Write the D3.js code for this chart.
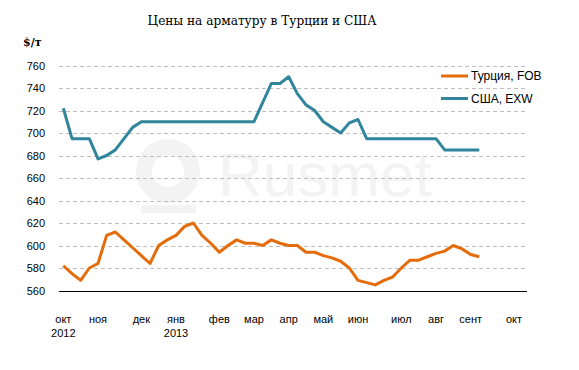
<!DOCTYPE html>
<html>
<head>
<meta charset="utf-8">
<script src="https://cdn.jsdelivr.net/npm/d3@7"></script>
<style>
  body { margin: 0; background: #fff; }
  svg { display: block; }
</style>
</head>
<body>
<div class="chart"></div>
<script>
(function() {
	var width = 579,
		height = 370;

	// weekly categories, month label on the first week shown for the month
	var weekCount = 54;
	var monthLabels = ["окт", "ноя", "дек", "янв", "фев", "мар", "апр", "май", "июн", "июл", "авг", "сент", "окт"];
	var monthWeeks = [0, 4, 9, 13, 18, 22, 26, 30, 34, 39, 43, 47, 52];
	var yearLabels = {0: "2012", 13: "2013"};

	var seriesNames = ["Турция, FOB", "США, EXW"];

	var turkey = [582, 575, 569, 580, 584, 609, 612, 605, 598, 591,
		584, 600, 605, 609, 617, 620, 609, 602, 594, 600,
		605, 602, 602, 600, 605, 602, 600, 600, 594, 594,
		591, 589, 586, 580, 569, 567, 565, 569, 572, 580,
		587, 587, 590, 593, 595, 600, 597, 592, 590];

	var usa = [722, 695, 695, 695, 677, 680, 685, 695, 705, 710,
		710, 710, 710, 710, 710, 710, 710, 710, 710, 710,
		710, 710, 710, 727, 744, 744, 750, 735, 725, 720,
		710, 705, 700, 709, 712, 695, 695, 695, 695, 695,
		695, 695, 695, 695, 685, 685, 685, 685, 685];

	var yTicks = [560, 580, 600, 620, 640, 660, 680, 700, 720, 740, 760];

	var colors = ["#E46C0A", "#31859C"];

	var left = 59, right = 527, top = 65.5, bottom = 290.5;

	var svg = d3.select(".chart").append("svg")
		.attr("width", width)
		.attr("height", height);

	var x = d3.scaleBand()
		.domain(d3.range(weekCount))
		.range([left, right])
		.paddingInner(0)
		.paddingOuter(0);

	var y = d3.scaleLinear()
		.domain([560, 760])
		.range([bottom, top]);

	// watermark
	var wm = svg.append("g").attr("fill", "#f3f3f3");
	wm.append("circle")
		.attr("cx", 168).attr("cy", 171)
		.attr("r", 24)
		.attr("fill", "none")
		.attr("stroke", "#f3f3f3")
		.attr("stroke-width", 16);
	wm.append("rect")
		.attr("x", 141).attr("y", 205)
		.attr("width", 55).attr("height", 8);
	wm.append("text")
		.attr("x", 218).attr("y", 196)
		.style("font-family", "Liberation Sans, sans-serif")
		.style("font-size", "62px")
		.text("Rusmet");

	// title
	svg.append("text")
		.attr("x", 262).attr("y", 25)
		.attr("text-anchor", "middle")
		.style("font-family", "DejaVu Serif Condensed, DejaVu Serif, serif")
		.style("font-size", "13.5px")
		.text("Цены на арматуру в Турции и США");

	svg.append("text")
		.attr("x", 23).attr("y", 46)
		.style("font-family", "DejaVu Serif, serif")
		.style("font-size", "11px")
		.style("font-weight", "bold")
		.text("$/т");

	// gridlines
	svg.append("g")
		.selectAll("line")
		.data(yTicks.slice(1))
		.enter().append("line")
		.attr("x1", left).attr("x2", right)
		.attr("y1", function(d) { return Math.round(y(d)) + 0.5; })
		.attr("y2", function(d) { return Math.round(y(d)) + 0.5; })
		.attr("stroke", "#bfbfbf")
		.attr("stroke-dasharray", "4,3");

	// y axis labels
	var yAxis = svg.append("g")
		.attr("transform", "translate(" + (left - 2) + ",0)")
		.call(d3.axisLeft(y).tickValues(yTicks).tickSize(0).tickPadding(12));
	yAxis.select(".domain").remove();
	yAxis.selectAll("text")
		.style("font-family", "Liberation Sans, sans-serif")
		.style("font-size", "11px")
		.attr("fill", "#000");

	// x axis
	var xAxis = svg.append("g")
		.attr("transform", "translate(0," + (Math.round(bottom) + 0.5) + ")")
		.call(d3.axisBottom(x)
			.tickValues(monthWeeks)
			.tickSize(0)
			.tickPadding(24)
			.tickFormat(function(d) { return monthLabels[monthWeeks.indexOf(d)]; }));
	xAxis.select(".domain")
		.attr("d", "M" + left + ",0H" + right)
		.attr("stroke", "#000");
	xAxis.selectAll("text")
		.style("font-family", "Liberation Sans, sans-serif")
		.style("font-size", "11px")
		.attr("fill", "#000");
	xAxis.selectAll(".tick")
		.filter(function(d) { return yearLabels[d]; })
		.append("text")
		.attr("y", 45)
		.attr("fill", "#000")
		.attr("text-anchor", "middle")
		.style("font-family", "Liberation Sans, sans-serif")
		.style("font-size", "11px")
		.text(function(d) { return yearLabels[d]; });

	// lines
	var line = d3.line()
		.x(function(d, i) { return x(i) + x.bandwidth() / 2; })
		.y(function(d) { return y(d); });

	svg.selectAll(".series")
		.data([turkey, usa])
		.enter().append("path")
		.attr("class", "series")
		.attr("d", line)
		.attr("fill", "none")
		.attr("stroke", function(d, i) { return colors[i]; })
		.attr("stroke-width", 3)
		.attr("stroke-linejoin", "round");

	// legend
	var legend = svg.selectAll(".legend")
		.data(seriesNames)
		.enter().append("g")
		.attr("class", "legend")
		.attr("transform", function(d, i) { return "translate(441," + (76 + i * 22.5) + ")"; });
	legend.append("line")
		.attr("x1", 0).attr("x2", 27)
		.attr("stroke", function(d, i) { return colors[i]; })
		.attr("stroke-width", 3);
	legend.append("text")
		.attr("x", 30).attr("y", 4)
		.style("font-family", "Liberation Sans, sans-serif")
		.style("font-size", "12px")
		.text(function(d) { return d; });
})();
</script>
</body>
</html>
